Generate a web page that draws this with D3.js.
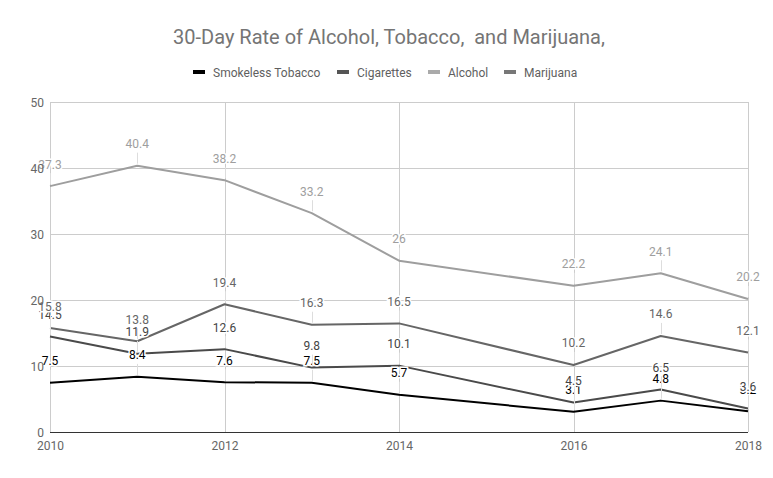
<!DOCTYPE html>
<html><head><meta charset="utf-8">
<script src="https://cdn.jsdelivr.net/npm/d3@7"></script>
<style>body{margin:0;background:#fff}svg{display:block;font-family:Roboto,sans-serif}</style>
</head><body><svg id="c" width="773" height="478"></svg>
<script>
const years = [2010, 2011, 2012, 2013, 2014, 2016, 2017, 2018];
const smokeless = [7.5, 8.4, 7.6, 7.5, 5.7, 3.1, 4.8, 3.2];
const cigarettes = [14.5, 11.9, 12.6, 9.8, 10.1, 4.5, 6.5, 3.6];
const alcohol = [37.3, 40.4, 38.2, 33.2, 26, 22.2, 24.1, 20.2];
const marijuana = [15.8, 13.8, 19.4, 16.3, 16.5, 10.2, 14.6, 12.1];
const seriesNames = ["Smokeless Tobacco", "Cigarettes", "Alcohol", "Marijuana"];
const seriesValues = [smokeless, cigarettes, alcohol, marijuana];
const xTicks = [2010, 2012, 2014, 2016, 2018];
const yTicks = [0, 10, 20, 30, 40, 50];
const title = "30-Day Rate of Alcohol, Tobacco,  and Marijuana,";

const colors = ["#000000", "#4a4a4a", "#9e9e9e", "#666666"];
const labelColors = ["#000000", "#444444", "#9e9e9e", "#666666"];
const legendColors = ["#000000", "#555555", "#aaaaaa", "#777777"];

const svg = d3.select("#c");
const x = d3.scaleLinear().domain([2010, 2018]).range([50, 748]);
const y = d3.scaleLinear().domain([0, 50]).range([432.3, 102.3]);

svg.append("text").attr("x", 389).attr("y", 44).attr("text-anchor", "middle")
  .attr("font-size", 20).attr("fill", "#757575").style("white-space", "pre").text(title);

// legend
const legendX = [193, 337, 428, 504];
const lg = svg.append("g");
seriesNames.forEach((n, i) => {
  lg.append("rect").attr("x", legendX[i]).attr("y", 70).attr("width", 12).attr("height", 4).attr("fill", legendColors[i]);
  lg.append("text").attr("x", legendX[i] + 20).attr("y", 76.5).attr("font-size", 12).attr("fill", "#5f5f5f").text(n);
});

// grid
const g = svg.append("g");
g.selectAll("line.h").data(yTicks.filter(d => d > 0)).join("line")
  .attr("x1", 50).attr("x2", 748).attr("y1", d => Math.round(y(d)) + 0.5).attr("y2", d => Math.round(y(d)) + 0.5)
  .attr("stroke", "#cccccc");
g.selectAll("line.v").data(xTicks).join("line")
  .attr("y1", 102).attr("y2", 432).attr("x1", d => Math.round(x(d)) + 0.5).attr("x2", d => Math.round(x(d)) + 0.5)
  .attr("stroke", "#cccccc");
g.append("line").attr("x1", 50).attr("x2", 748).attr("y1", 432.5).attr("y2", 432.5).attr("stroke", "#333333");

// lines
const line = d3.line().x((d, i) => x(years[i])).y(d => y(d));
seriesValues.forEach((vals, s) => {
  svg.append("path").datum(vals).attr("d", line).attr("fill", "none")
    .attr("stroke", colors[s]).attr("stroke-width", 2).attr("stroke-linejoin", "round");
});

// annotations
seriesValues.forEach((vals, s) => {
  const ag = svg.append("g");
  ag.selectAll("line").data(vals).join("line")
    .attr("x1", (d, i) => Math.round(x(years[i])) + 0.5).attr("x2", (d, i) => Math.round(x(years[i])) + 0.5)
    .attr("y1", d => y(d) - 2).attr("y2", d => y(d) - 13)
    .attr("stroke", "#dddddd").attr("stroke-width", 1);
  ag.selectAll("text").data(vals).join("text")
    .attr("x", (d, i) => x(years[i])).attr("y", d => y(d) - 17.5)
    .attr("text-anchor", "middle").attr("font-size", 12).attr("fill", labelColors[s])
    .attr("stroke", "#ffffff").attr("stroke-width", 3).attr("paint-order", "stroke")
    .text(d => d);
});

// axes (drawn last, over annotations)
const yAxis = svg.append("g").attr("transform", "translate(44,0)")
  .call(d3.axisLeft(y).tickValues(yTicks).tickSize(0).tickPadding(0));
yAxis.select(".domain").remove();
yAxis.selectAll("text").attr("font-size", 12).attr("fill", "#666666").attr("font-family", "Roboto,sans-serif");
const xAxis = svg.append("g").attr("transform", "translate(0,441)")
  .call(d3.axisBottom(x).tickValues(xTicks).tickFormat(d3.format("d")).tickSize(0).tickPadding(0));
xAxis.select(".domain").remove();
xAxis.selectAll("text").attr("font-size", 12).attr("fill", "#666666").attr("font-family", "Roboto,sans-serif");
</script></body></html>
